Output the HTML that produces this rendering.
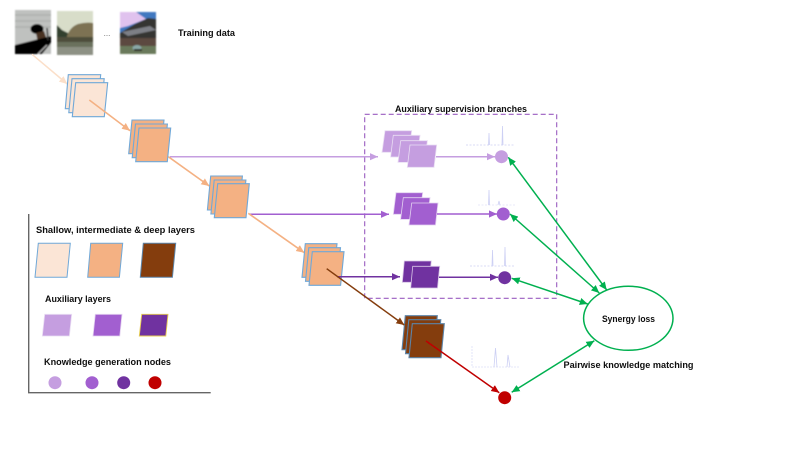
<!DOCTYPE html>
<html><head><meta charset="utf-8"><style>
html,body{margin:0;padding:0;background:#fff}
svg{display:block}
text{font-family:"Liberation Sans",sans-serif;font-weight:bold;font-size:9px;fill:#111}
</style></head><body>
<svg width="789" height="451" viewBox="0 0 789 451" xmlns="http://www.w3.org/2000/svg">
<defs>
<filter id="b" x="-10%" y="-10%" width="120%" height="120%"><feGaussianBlur stdDeviation="0.8"/></filter>
<filter id="s" x="0" y="0" width="100%" height="100%" filterUnits="userSpaceOnUse"><feGaussianBlur stdDeviation="0.3"/></filter>
<clipPath id="c1"><rect x="15" y="10" width="36" height="44"/></clipPath>
<clipPath id="c2"><rect x="57" y="11" width="36" height="44"/></clipPath>
<clipPath id="c3"><rect x="120" y="12" width="36" height="42"/></clipPath>
<marker id="aP" markerUnits="userSpaceOnUse" markerWidth="10" markerHeight="8" refX="8" refY="4" orient="auto"><path d="M0,0.4L8,4L0,7.6z" fill="#fbdfc9"/></marker>
<marker id="aO" markerUnits="userSpaceOnUse" markerWidth="10" markerHeight="8" refX="8" refY="4" orient="auto"><path d="M0,0.4L8,4L0,7.6z" fill="#f4b183"/></marker>
<marker id="aL" markerUnits="userSpaceOnUse" markerWidth="10" markerHeight="8" refX="8" refY="4" orient="auto"><path d="M0,0.4L8,4L0,7.6z" fill="#c59ee0"/></marker>
<marker id="aM" markerUnits="userSpaceOnUse" markerWidth="10" markerHeight="8" refX="8" refY="4" orient="auto"><path d="M0,0.4L8,4L0,7.6z" fill="#a25ed0"/></marker>
<marker id="aD" markerUnits="userSpaceOnUse" markerWidth="10" markerHeight="8" refX="8" refY="4" orient="auto"><path d="M0,0.4L8,4L0,7.6z" fill="#7030a0"/></marker>
<marker id="aB" markerUnits="userSpaceOnUse" markerWidth="10" markerHeight="8" refX="8" refY="4" orient="auto"><path d="M0,0.4L8,4L0,7.6z" fill="#843c0c"/></marker>
<marker id="aR" markerUnits="userSpaceOnUse" markerWidth="10" markerHeight="8" refX="8" refY="4" orient="auto"><path d="M0,0.4L8,4L0,7.6z" fill="#c00000"/></marker>
<marker id="aG" markerUnits="userSpaceOnUse" markerWidth="10" markerHeight="8" refX="8" refY="4" orient="auto-start-reverse"><path d="M0,0.4L8,4L0,7.6z" fill="#00b050"/></marker>
</defs>

<g filter="url(#s)">
<!-- photos -->
<g filter="url(#b)">
<g clip-path="url(#c1)">
<rect x="15" y="10" width="36" height="44" fill="#bfc1bf"/>
<path d="M15,15h36M15,21h36M15,27h36" stroke="#a4a6a4" stroke-width="1.5" opacity=".6"/>
<ellipse cx="37" cy="29" rx="6.5" ry="5" fill="#050505"/>
<path d="M36,33l8,-2l3,9l-9,3z" fill="#4a3024"/>
<path d="M15,45L51,36V43L42,54H15z" fill="#050505"/>
<path d="M47,28L48,40" stroke="#333" stroke-width="1.5"/>
<path d="M38,54L47,45" stroke="#bbb" stroke-width="1.2"/>
</g>
<g clip-path="url(#c2)">
<rect x="57" y="11" width="36" height="44" fill="#d8ddc9"/>
<path d="M57,25L62,30L68,33V38H57z" fill="#33402f"/>
<path d="M67,36Q70,27 78,24Q86,22 93,23V39H67z" fill="#7d7252"/>
<rect x="57" y="38" width="36" height="17" fill="#6a715d"/>
<rect x="57" y="37" width="36" height="5" fill="#4e4e3a"/>
<rect x="57" y="47" width="36" height="8" fill="#8d9184"/>
</g>
<g clip-path="url(#c3)">
<rect x="120" y="12" width="36" height="42" fill="#3f78c0"/>
<path d="M120,12H136L146,19L128,26L120,28z" fill="#e0c2ee"/>
<path d="M120,33L135,24L148,18L156,19V54H120z" fill="#363430"/>
<path d="M122,32L150,26L156,30L128,36z" fill="#7d7f86"/>
<rect x="120" y="38" width="36" height="8" fill="#5b4a40"/>
<rect x="120" y="46" width="36" height="8" fill="#6b7a5c"/>
<ellipse cx="137" cy="48" rx="4.5" ry="3" fill="#8aa8a8"/>
<rect x="134" y="49" width="8" height="2" fill="#2a2a20"/>
</g>
</g>
<text x="107" y="36" text-anchor="middle" style="font-weight:normal;font-size:8px;fill:#666">...</text>
<text x="178" y="36" textLength="57" lengthAdjust="spacingAndGlyphs">Training data</text>

<!-- dashed box -->
<rect x="364.7" y="114.3" width="192" height="184" fill="none" stroke="#9a5cc0" stroke-width="1.1" stroke-dasharray="5 3"/>
<text x="395" y="112" textLength="132" lengthAdjust="spacingAndGlyphs">Auxiliary supervision branches</text>

<!-- lines behind layers -->
<g fill="none" stroke-width="1.5">
<path d="M170,156.7H378" stroke="#c59ee0" marker-end="url(#aL)"/>
<path d="M250,214.3H389" stroke="#a25ed0" marker-end="url(#aM)"/>
<path d="M32,54.3L67.3,84" stroke="#fbdfc9" marker-end="url(#aP)"/>
</g>

<!-- stack 1 -->
<g stroke="#6fa8d8" stroke-width="1.1" fill="#fbe5d6">
<path d="M68.3,74.7H100.7L97.3,108.7H65.3z"/>
<path d="M72,78.7H104.2L100.8,112.7H68.8z"/>
<path d="M75.7,82.7H107.7L104.3,116.7H72.3z"/>
</g>
<path d="M89.3,100L130,130.7" fill="none" stroke="#f4b183" stroke-width="1.6" marker-end="url(#aO)"/>
<!-- stack 2 -->
<g stroke="#6fa8d8" stroke-width="1.1" fill="#f4b183">
<path d="M132,120H164L160.6,153.7H128.7z"/>
<path d="M135.5,124H167.4L164,157.7H132.2z"/>
<path d="M139,128H170.7L167.3,161.7H135.7z"/>
</g>
<path d="M168.3,156.7L209.3,186" fill="none" stroke="#f4b183" stroke-width="1.6" marker-end="url(#aO)"/>
<!-- stack 3 -->
<g stroke="#6fa8d8" stroke-width="1.1" fill="#f4b183">
<path d="M210.7,176H242.4L239,210H207.4z"/>
<path d="M214.2,180H245.9L242.5,214H210.9z"/>
<path d="M217.7,183.7H249.3L246,217.7H214.3z"/>
</g>
<path d="M248.3,213.3L304.3,252.7" fill="none" stroke="#f4b183" stroke-width="1.6" marker-end="url(#aO)"/>
<!-- stack 4 -->
<g stroke="#6fa8d8" stroke-width="1.1" fill="#f4b183">
<path d="M305.3,243.7H337L333.6,277.3H302z"/>
<path d="M308.8,247.7H340.5L337.1,281.3H305.5z"/>
<path d="M312.3,251.7H344L340.6,285.3H309z"/>
</g>
<path d="M337,276.7H400" fill="none" stroke="#7030a0" stroke-width="1.5" marker-end="url(#aD)"/>
<!-- brown stack -->
<g stroke="#5b84a8" stroke-width="1.1" fill="#843c0c">
<path d="M405.3,315.7H437.3L434,349.7H402z"/>
<path d="M408.8,319.7H440.8L437.5,353.7H405.5z"/>
<path d="M412.3,323.7H444.3L441,357.7H409z"/>
</g>
<path d="M326.7,268.7L404.3,325" fill="none" stroke="#843c0c" stroke-width="1.5" marker-end="url(#aB)"/>
<path d="M426,341L499.3,392.7" fill="none" stroke="#c00000" stroke-width="1.5" marker-end="url(#aR)"/>

<!-- aux light -->
<g fill="#c59ee0" stroke="#e9ddf3" stroke-width="0.8">
<path d="M385,130.7H411.7L409,152.3H382z"/>
<path d="M393.3,135.3H420L417.3,157H390.6z"/>
<path d="M400.7,140.7H427.4L424.7,162.4H398z"/>
<path d="M410,145H436.7L434,167.3H407.3z"/>
</g>
<!-- aux medium -->
<g fill="#a25ed0" stroke="#e3d2f0" stroke-width="0.8">
<path d="M396,192.7H422.7L420,214.3H393.3z"/>
<path d="M403.3,197.7H430L427.4,219.4H400.6z"/>
<path d="M411.7,203H438L435.5,225H409z"/>
</g>
<!-- aux dark -->
<g fill="#7030a0" stroke="#d8c6e6" stroke-width="0.8">
<path d="M404.3,261H431.3L429,282.3H402.3z"/>
<path d="M412.7,266.3H439.7L437.5,288H410.7z"/>
</g>

<!-- after-aux lines -->
<g fill="none" stroke-width="1.5">
<path d="M436,156.7H495" stroke="#c59ee0" marker-end="url(#aL)"/>
<path d="M437,214H497" stroke="#a25ed0" marker-end="url(#aM)"/>
<path d="M439,277.3H498" stroke="#7030a0" marker-end="url(#aD)"/>
</g>

<!-- histograms -->
<g fill="none" stroke="#cdd0f4" stroke-width="0.8">
<path d="M466,145H515" stroke-dasharray="2 1.5"/>
<path d="M488.5,145L489,133L489.5,145M502,145L502.5,126L503,145"/>
<path d="M478,205H515" stroke-dasharray="2 1.5" opacity=".6"/>
<path d="M488.5,205L489,190L489.5,205M498,205L499,201L500,205"/>
<path d="M470,266H515" stroke-dasharray="2 1.5"/>
<path d="M492,266L492.5,250L493,266M504.5,266L505,247L505.5,266"/>
<path d="M472,346V367H520" stroke-dasharray="2 1" opacity=".7"/>
<path d="M494,367L495.5,348L497,367M507,367L508,355L510,367"/>
</g>

<!-- circles -->
<circle cx="501.5" cy="156.7" r="6.5" fill="#c59ee0"/>
<circle cx="503.3" cy="214" r="6.5" fill="#a25ed0"/>
<circle cx="504.7" cy="277.7" r="6.5" fill="#7030a0"/>
<circle cx="504.7" cy="397.7" r="6.5" fill="#c00000"/>

<!-- green -->
<g fill="none" stroke="#00b050" stroke-width="1.5">
<path d="M508.3,157.3L606.7,290" marker-start="url(#aG)" marker-end="url(#aG)"/>
<path d="M510,214L599.3,293" marker-start="url(#aG)" marker-end="url(#aG)"/>
<path d="M511.7,278.3L587.7,304" marker-start="url(#aG)" marker-end="url(#aG)"/>
<path d="M511.7,392.3L594.3,340.7" marker-start="url(#aG)" marker-end="url(#aG)"/>
<ellipse cx="628.3" cy="318.3" rx="44.7" ry="32"/>
</g>
<text x="602" y="322" textLength="53" lengthAdjust="spacingAndGlyphs">Synergy loss</text>
<text x="563.5" y="368" textLength="130" lengthAdjust="spacingAndGlyphs">Pairwise knowledge matching</text>

<!-- legend -->
<path d="M28.7,214V392.7H210.7" fill="none" stroke="#666" stroke-width="1.4"/>
<text x="36" y="233" textLength="159" lengthAdjust="spacingAndGlyphs">Shallow, intermediate &amp; deep layers</text>
<path d="M38.3,243.3H70.3L67,277.3H35z" fill="#fbe5d6" stroke="#6fa8d8"/>
<path d="M90.7,243.3H122.7L119.4,277.3H87.7z" fill="#f4b183" stroke="#6fa8d8"/>
<path d="M143.3,243.3H175.7L172.4,277.3H140.3z" fill="#843c0c" stroke="#5b84a8"/>
<text x="45" y="302" textLength="66" lengthAdjust="spacingAndGlyphs">Auxiliary layers</text>
<path d="M44.7,314.3H71.7L69.4,336H42.3z" fill="#c59ee0" stroke="#e9ddf3" stroke-width="0.8"/>
<path d="M95.3,314.3H122L119.8,336H93z" fill="#a25ed0" stroke="#e3d2f0" stroke-width="0.8"/>
<path d="M141.7,314.3H168L165.8,336H139.3z" fill="#7030a0" stroke="#e8cf50" stroke-width="0.9"/>
<text x="44" y="365" textLength="127" lengthAdjust="spacingAndGlyphs">Knowledge generation nodes</text>
<circle cx="55" cy="382.7" r="6.5" fill="#c59ee0"/>
<circle cx="92" cy="382.7" r="6.5" fill="#a25ed0"/>
<circle cx="123.7" cy="382.7" r="6.5" fill="#7030a0"/>
<circle cx="155" cy="382.7" r="6.5" fill="#c00000"/>
</g>
</svg>
</body></html>
